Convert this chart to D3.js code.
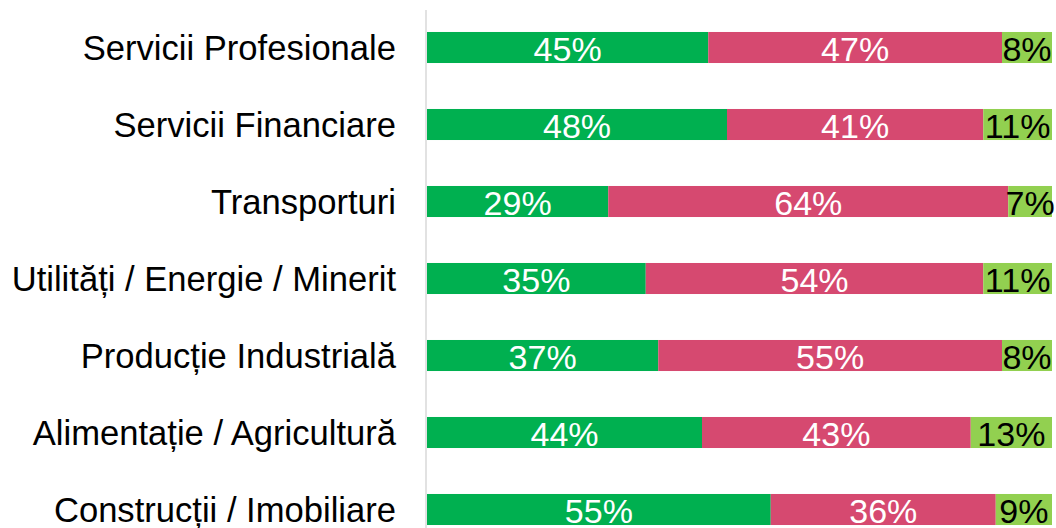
<!DOCTYPE html>
<html>
<head>
<meta charset="utf-8">
<script src="https://cdn.jsdelivr.net/npm/d3@7"></script>
<style>
  html, body { margin: 0; padding: 0; background: #fff; }
  svg { display: block; }
</style>
</head>
<body>
<div id="chart"></div>
<script>
// categories, top to bottom
var categories = [
    "Servicii Profesionale",
    "Servicii Financiare",
    "Transporturi",
    "Utilități / Energie / Minerit",
    "Producție Industrială",
    "Alimentație / Agricultură",
    "Construcții / Imobiliare"
];

// series values (percent)
var series1 = [45, 48, 29, 35, 37, 44, 55];
var series2 = [47, 41, 64, 54, 55, 43, 36];
var series3 = [8, 11, 7, 11, 8, 13, 9];

var seriesNames = ["s1", "s2", "s3"];
var colors = ["#00b050", "#d64970", "#92d050"];
var textColors = ["#ffffff", "#ffffff", "#000000"];

var width = 1056, height = 528;
var font = "Arial, 'Liberation Sans', sans-serif";

var svg = d3.select("#chart").append("svg")
    .attr("width", width)
    .attr("height", height);

var y = d3.scaleBand()
    .domain(categories)
    .range([9, 548])
    .paddingInner(0.597)
    .paddingOuter(0.2985);

var x = d3.scaleLinear()
    .domain([0, 100])
    .range([427, 1052]);

// build stacked rows
var rows = categories.map(function(c, i) {
    return { cat: c, s1: series1[i], s2: series2[i], s3: series3[i] };
});
var stacked = d3.stack().keys(seriesNames)(rows);

var layer = svg.selectAll("g.layer")
    .data(stacked)
    .enter().append("g")
    .attr("class", "layer");

layer.selectAll("rect")
    .data(function(d, i) { return d.map(function(p) { return { p: p, k: i }; }); })
    .enter().append("rect")
    .attr("x", function(d) { return x(d.p[0]); })
    .attr("y", function(d) { return y(d.p.data.cat); })
    .attr("width", function(d) { return x(d.p[1]) - x(d.p[0]); })
    .attr("height", y.bandwidth())
    .attr("fill", function(d) { return colors[d.k]; });

// value labels
layer.selectAll("text")
    .data(function(d, i) { return d.map(function(p) { return { p: p, k: i }; }); })
    .enter().append("text")
    .attr("x", function(d) { return (x(d.p[0]) + x(d.p[1])) / 2; })
    .attr("y", function(d) { return y(d.p.data.cat) + y.bandwidth() / 2 + 13; })
    .attr("text-anchor", "middle")
    .attr("font-family", font)
    .attr("font-size", 34)
    .attr("fill", function(d) { return textColors[d.k]; })
    .text(function(d) { return Math.round(d.p[1] - d.p[0]) + "%"; });

// category labels
svg.append("g")
    .selectAll("text")
    .data(categories)
    .enter().append("text")
    .attr("x", 396)
    .attr("y", function(d) { return y(d) + y.bandwidth() / 2 + 12; })
    .attr("text-anchor", "end")
    .attr("font-family", font)
    .attr("font-size", 34.6)
    .attr("fill", "#000")
    .text(function(d) { return d; });

// vertical axis line
svg.append("line")
    .attr("x1", 426)
    .attr("x2", 426)
    .attr("y1", 10)
    .attr("y2", height)
    .style("stroke", "#d9d9d9")
    .style("stroke-width", 1.5);
</script>
</body>
</html>
